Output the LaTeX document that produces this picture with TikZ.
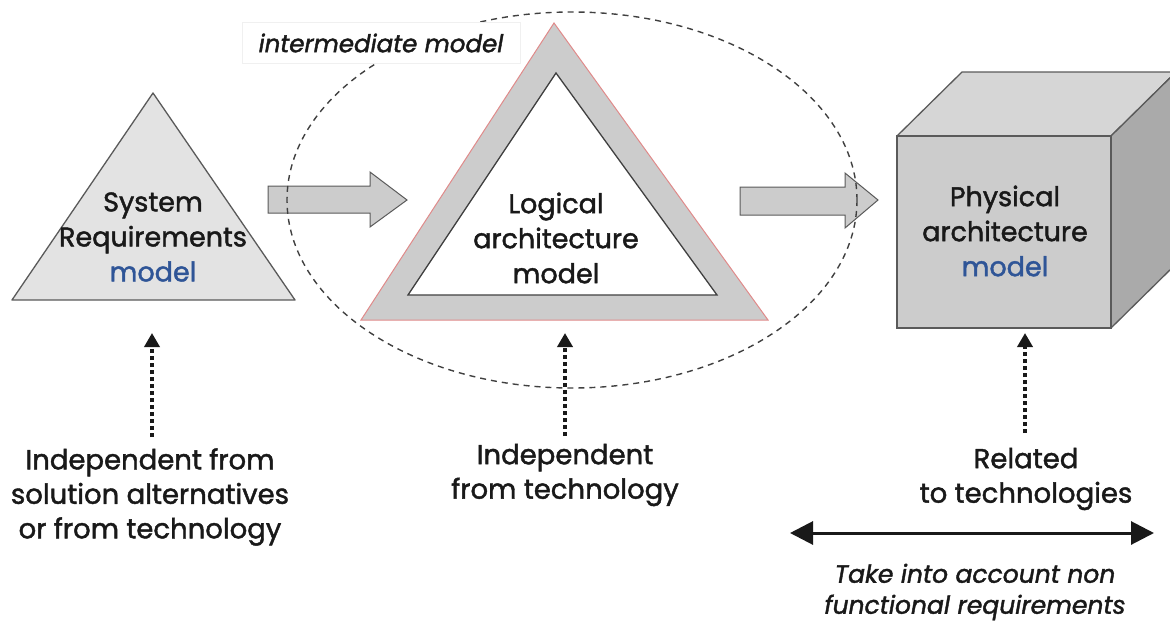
\documentclass[tikz,border=0pt]{standalone}
\usepackage{fontspec}
\setmainfont{Poppins}[FakeBold=1.6]
\usetikzlibrary{arrows.meta}
\definecolor{modelblue}{HTML}{2F5597}
\definecolor{trifill}{HTML}{E3E3E3}
\definecolor{midgray}{HTML}{CCCCCC}
\definecolor{topgray}{HTML}{D6D6D6}
\definecolor{sidegray}{HTML}{AAAAAA}
\definecolor{edgegray}{HTML}{5A5A5A}
\definecolor{redline}{HTML}{E08A8A}
\tikzset{
  shapetext/.style={align=center, text=black!90, font=\fontsize{27}{35}\selectfont},
  notetext/.style={align=center, text=black!90, font=\fontsize{27.5}{34.5}\selectfont},
  blockarrow/.style={fill=midgray, draw=edgegray, line width=1pt, line join=miter},
  dotarrow/.style={line width=3.6pt, dash pattern=on 3.6pt off 3.4pt, -{Triangle[width=15pt,length=14pt]}, black!90},
}
\begin{document}
\begin{tikzpicture}[x=1pt,y=-1pt]
\useasboundingbox (0,0) rectangle (1170,621);
% block arrows
\draw[blockarrow] (268,186) -- (370,186) -- (370,172) -- (407,200) -- (370,227) -- (370,213) -- (268,213) -- cycle;
\draw[blockarrow] (740,187) -- (845,187) -- (845,173) -- (878,200) -- (845,228) -- (845,215) -- (740,215) -- cycle;
% dashed ellipse
\draw[black!75, line width=1.4pt, dash pattern=on 6pt off 5pt] (572,200) ellipse [x radius=285, y radius=188];
% left triangle
\draw[fill=trifill, draw=edgegray, line width=1.3pt, line join=round] (153,93) -- (295,300) -- (12,300) -- cycle;
\node[shapetext] (sysreq) at (153,237) {System\\Requirements\\\textcolor{modelblue}{model}};
% logical triangle
\draw[fill=midgray, draw=redline, line width=1pt] (554,23) -- (768,320) -- (361,320) -- cycle;
\draw[fill=white, draw=black!75, line width=1.3pt] (556,73) -- (717,295) -- (408,295) -- cycle;
\node[shapetext] (logical) at (556,238) {Logical\\architecture\\model};
% intermediate label
\node[draw=black!6, fill=white, inner sep=0pt, minimum width=278pt, minimum height=41pt, font=\fontsize{24.5}{28}\selectfont\itshape, text=black!90] (inter) at (381,43) {intermediate model};
% cube
\draw[fill=topgray, draw=edgegray, line width=1.3pt, line join=round] (897,136) -- (962,72) -- (1176,72) -- (1111,136) -- cycle;
\draw[fill=sidegray, draw=edgegray, line width=1.3pt, line join=round] (1111,136) -- (1176,72) -- (1176,264) -- (1111,328) -- cycle;
\draw[fill=midgray, draw=edgegray, line width=1.3pt] (897,136) rectangle (1111,328);
\node[shapetext] (physical) at (1005,231) {Physical\\architecture\\\textcolor{modelblue}{model}};
% anchor coordinates for dotted arrows
\coordinate (sysbase) at (152,333);
\coordinate (logbase) at (565,333);
\coordinate (phybase) at (1025,333);
% bottom notes
\node[notetext] (note1) at (150,497) {Independent from\\solution alternatives\\or from technology};
\node[notetext] (note2) at (565,475) {Independent\\from technology};
\node[notetext] (note3) at (1026,479) {Related\\to technologies};
\coordinate (n1top) at (152,437);
\coordinate (n2top) at (565,436);
\coordinate (n3top) at (1025,433);
\draw[dotarrow] (n1top) -- (sysbase);
\draw[dotarrow] (n2top) -- (logbase);
\draw[dotarrow] (n3top) -- (phybase);
% double arrow
\coordinate (la) at (790,533);
\coordinate (ra) at (1154,533);
\draw[line width=3pt, black!90, {Triangle[width=23pt,length=23pt]}-{Triangle[width=23pt,length=23pt]}] (la) -- (ra);
\node[align=center, text=black!90, font=\fontsize{25}{31}\selectfont\itshape] (nfr) at (975,592) {Take into account non\\functional requirements};
\end{tikzpicture}
\end{document}
